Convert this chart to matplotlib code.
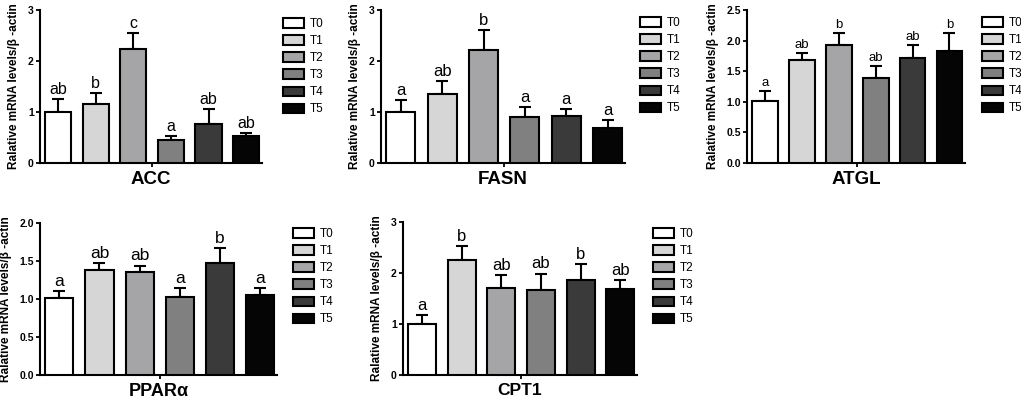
import numpy as np
import matplotlib
matplotlib.use('Agg')
import matplotlib.pyplot as plt

plt.rcParams['font.family'] = ['Liberation Sans', 'DejaVu Sans']

# groups and colours
groups = ['T0', 'T1', 'T2', 'T3', 'T4', 'T5']
bar_colors = ['#ffffff', '#d6d6d6', '#a5a5a8', '#808080', '#3a3a3a', '#050505']

# mean relative expression per gene
acc_mean = [1.00, 1.16, 2.23, 0.45, 0.77, 0.53]
fasn_mean = [1.00, 1.36, 2.21, 0.90, 0.93, 0.69]
atgl_mean = [1.01, 1.68, 1.93, 1.39, 1.72, 1.83]
ppar_mean = [1.01, 1.38, 1.35, 1.02, 1.48, 1.05]
cpt1_mean = [1.00, 2.26, 1.71, 1.66, 1.87, 1.69]

# SEM (upper error bar only)
acc_err = [0.26, 0.21, 0.32, 0.07, 0.28, 0.06]
fasn_err = [0.24, 0.24, 0.40, 0.20, 0.12, 0.15]
atgl_err = [0.17, 0.11, 0.19, 0.20, 0.21, 0.29]
ppar_err = [0.10, 0.09, 0.09, 0.12, 0.19, 0.10]
cpt1_err = [0.18, 0.27, 0.25, 0.33, 0.31, 0.18]

# significance letters
acc_sig = ['ab', 'b', 'c', 'a', 'ab', 'ab']
fasn_sig = ['a', 'ab', 'b', 'a', 'a', 'a']
atgl_sig = ['a', 'ab', 'b', 'ab', 'ab', 'b']
ppar_sig = ['a', 'ab', 'ab', 'a', 'b', 'a']
cpt1_sig = ['a', 'b', 'ab', 'ab', 'b', 'ab']

W, H = 1021, 400
fig = plt.figure(figsize=(W / 100, H / 100), dpi=100)


def panel(box, name, mean, err, sig, yticks, fmt, leg_xy, sig_size, title_size):
    left, top, right, bottom = box
    ax = fig.add_axes([left / W, 1 - bottom / H, (right - left) / W, (bottom - top) / H])
    x = np.arange(len(groups))
    bars = ax.bar(x, mean, width=0.7, color=bar_colors, edgecolor='black',
                  linewidth=1.5, zorder=3)
    ax.errorbar(x, mean, yerr=[np.zeros(len(err)), err], fmt='none', ecolor='black',
                elinewidth=1.5, capsize=4.2, capthick=1.5, zorder=2)
    for xi, m, e, s in zip(x, mean, err, sig):
        ax.annotate(s, (xi, m + e), xytext=(0, 1.5), textcoords='offset points',
                    ha='center', va='bottom', fontsize=sig_size)
    ax.set_xlim(-0.48, 5.42)
    ax.set_ylim(0, yticks[-1])
    ax.set_yticks(yticks)
    ax.set_yticklabels([fmt % t for t in yticks], fontsize=7.5, fontweight='bold')
    ax.set_xticks([2.5])
    ax.set_xticklabels([''])
    ax.tick_params(axis='both', length=3, width=1.3, pad=1.5)
    for sp in ['top', 'right']:
        ax.spines[sp].set_visible(False)
    for sp in ['left', 'bottom']:
        ax.spines[sp].set_linewidth(1.5)
    ax.set_ylabel('Ralative mRNA levels/β -actin', fontsize=8.5, fontweight='bold',
                  labelpad=5.5)
    ax.set_xlabel(name, fontsize=title_size, fontweight='bold', labelpad=1)
    lx, ly = leg_xy
    ax.legend(bars, groups, loc='upper left', bbox_to_anchor=(lx / W, 1 - ly / H),
              bbox_transform=fig.transFigure, frameon=False, fontsize=8.5,
              borderpad=0, borderaxespad=0, handlelength=1.75, handleheight=0.85,
              handletextpad=0.55, labelspacing=0.43)
    return ax


panel((40, 10, 262, 163), 'ACC', acc_mean, acc_err, acc_sig, [0, 1, 2, 3], '%d',
      (283, 18), 11.5, 13.5)
panel((381, 10, 625, 163), 'FASN', fasn_mean, fasn_err, fasn_sig, [0, 1, 2, 3], '%d',
      (640, 17), 12, 13.5)
panel((747, 10, 965, 163), 'ATGL', atgl_mean, atgl_err, atgl_sig,
      [0.0, 0.5, 1.0, 1.5, 2.0, 2.5], '%.1f', (982, 17), 9.5, 13.5)
panel((40, 223, 277, 375), 'PPARα', ppar_mean, ppar_err, ppar_sig,
      [0.0, 0.5, 1.0, 1.5, 2.0], '%.1f', (293, 228), 12.5, 13)
panel((403, 222, 637, 375), 'CPT1', cpt1_mean, cpt1_err, cpt1_sig, [0, 1, 2, 3], '%d',
      (653, 228), 12, 12.5)

fig.savefig('out.png', dpi=100)
